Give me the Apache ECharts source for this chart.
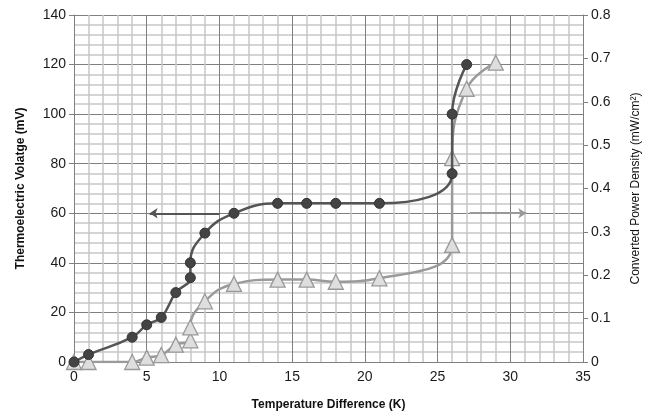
<!DOCTYPE html>
<html>
<head>
<meta charset="utf-8">
<script src="https://cdn.jsdelivr.net/npm/echarts@6/dist/echarts.min.js"></script>
<style>
  html, body { margin: 0; padding: 0; background: #fff; }
  #chart { width: 653px; height: 413px; }
</style>
</head>
<body>
<div id="chart"></div>
<script>
// temperature difference (K) for each measured point
const voltageX = [0, 1, 4, 5, 6, 7, 8, 8, 9, 11, 14, 16, 18, 21, 26, 26, 27];
// thermoelectric voltage (mV)
const voltageY = [0, 3, 10, 15, 18, 28, 34, 40, 52, 60, 64, 64, 64, 64, 76, 100, 120];

const powerX = [0, 1, 4, 5, 6, 7, 8, 8, 9, 11, 14, 16, 18, 21, 26, 26, 27, 29];
// converted power density (mW/cm2)
const powerY = [0, 0, 0, 0.01, 0.016, 0.04, 0.05, 0.08, 0.14, 0.18, 0.19, 0.19, 0.185, 0.193, 0.27, 0.47, 0.63, 0.69];

// arrows telling which axis each curve belongs to
const arrowLeft = [[10, 60], [5.2, 60]];
const arrowRight = [[27.2, 0.343], [31.1, 0.343]];

const xTitle = 'Temperature Difference (K)';
const yLeftTitle = 'Thermoelectric Volatge (mV)';
const yRightTitle = 'Converted Power Density (mW/cm²)';

const pair = (xs, ys) => xs.map((x, i) => [x, ys[i]]);

let myChart = echarts.init(document.getElementById('chart'));

const gridMajor = { show: true, lineStyle: { color: '#808080', width: 1 } };
const gridMinor = { show: true, lineStyle: { color: '#c8c8c8', width: 1.5 } };
const tickFont = { color: '#1a1a1a', fontSize: 14, fontFamily: 'Liberation Sans' };

myChart.setOption({
  animation: false,
  grid: { left: 74, right: 70, top: 15, bottom: 51, outerBoundsMode: 'none' },
  xAxis: {
    type: 'value',
    min: 0, max: 35, interval: 5,
    name: xTitle,
    nameLocation: 'middle',
    nameGap: 37,
    nameTextStyle: { fontWeight: 'bold', fontSize: 12, color: '#111', fontFamily: 'Liberation Sans' },
    axisLine: { show: true, lineStyle: { color: '#808080' } },
    axisTick: { show: false },
    axisLabel: tickFont,
    splitLine: gridMajor,
    minorTick: { show: false, splitNumber: 5 },
    minorSplitLine: gridMinor
  },
  yAxis: [{
    type: 'value',
    min: 0, max: 140, interval: 20,
    name: yLeftTitle,
    nameLocation: 'middle',
    nameGap: 47,
    nameTextStyle: { fontWeight: 'bold', fontSize: 12, color: '#111', fontFamily: 'Liberation Sans' },
    axisLine: { show: true, lineStyle: { color: '#808080' } },
    axisTick: { show: true, length: 5, lineStyle: { color: '#808080' } },
    axisLabel: tickFont,
    splitLine: gridMajor,
    minorTick: { show: false, splitNumber: 5 },
    minorSplitLine: gridMinor
  }, {
    type: 'value',
    min: 0, max: 0.8, interval: 0.1,
    name: yRightTitle,
    nameLocation: 'middle',
    nameGap: 47,
    nameTextStyle: { fontSize: 12, color: '#111', fontFamily: 'Liberation Sans' },
    axisLine: { show: true, lineStyle: { color: '#808080' } },
    axisTick: { show: true, length: 5, lineStyle: { color: '#808080' } },
    axisLabel: Object.assign({}, tickFont, {
      formatter: v => v === 0 ? '0' : v.toFixed(1)
    }),
    splitLine: { show: false }
  }],
  series: [{
    name: 'voltage',
    type: 'line',
    smooth: 0.45,
    data: pair(voltageX, voltageY),
    symbol: 'circle',
    symbolSize: 10,
    lineStyle: { color: '#555', width: 2.5 },
    itemStyle: { color: '#444', borderColor: '#333', borderWidth: 1 },
    z: 3,
    markLine: {
      silent: true,
      symbol: ['none', 'arrow'],
      symbolSize: 8,
      label: { show: false },
      lineStyle: { color: '#555', width: 2, type: 'solid' },
      data: [[{ coord: arrowLeft[0] }, { coord: arrowLeft[1] }]]
    }
  }, {
    name: 'power',
    type: 'line',
    yAxisIndex: 1,
    smooth: 0.45,
    data: pair(powerX, powerY),
    symbol: 'triangle',
    symbolSize: 15,
    lineStyle: { color: '#9a9a9a', width: 2.5 },
    itemStyle: { color: '#dedede', borderColor: '#999', borderWidth: 1.3 },
    z: 2,
    markLine: {
      silent: true,
      symbol: ['none', 'arrow'],
      symbolSize: 8,
      label: { show: false },
      lineStyle: { color: '#999', width: 2, type: 'solid' },
      data: [[{ coord: arrowRight[0] }, { coord: arrowRight[1] }]]
    }
  }]
});
</script>
</body>
</html>
